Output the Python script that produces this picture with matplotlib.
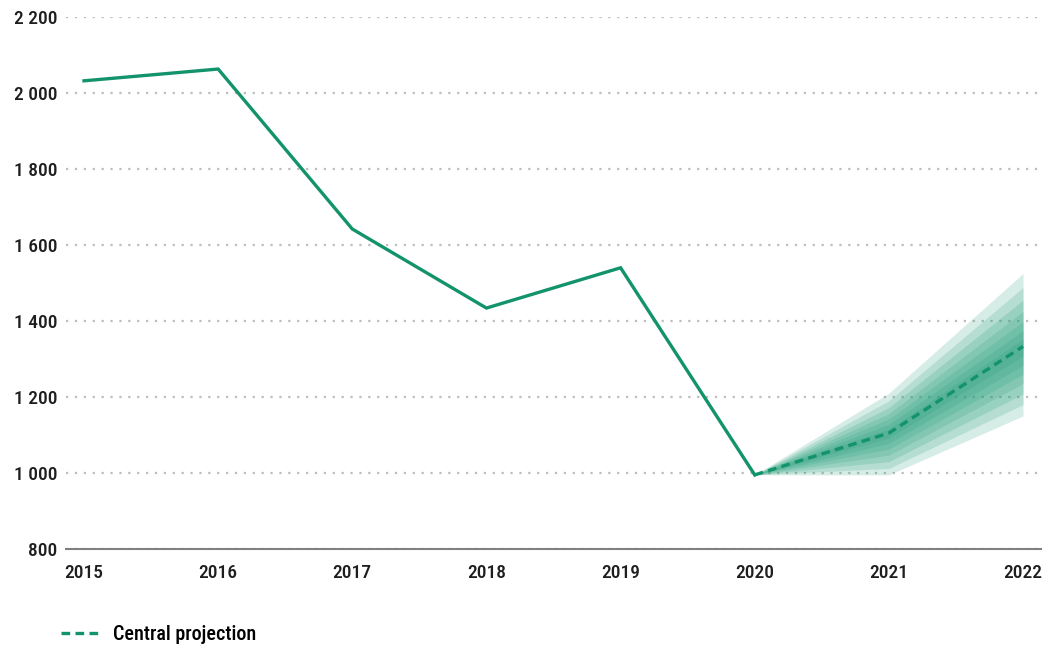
import numpy as np
import matplotlib
matplotlib.use("Agg")
import matplotlib.pyplot as plt
from matplotlib.ticker import FuncFormatter

plt.rcParams['font.family'] = ['Roboto Condensed', 'Archivo Narrow', 'PT Sans Narrow',
                               'Liberation Sans', 'DejaVu Sans']

# data
years = [2015, 2016, 2017, 2018, 2019, 2020]
values = [2032, 2063, 1642, 1434, 1540, 995]

proj_years = [2020, 2021, 2022]
central = [995, 1105, 1333]

# fan bands, outer to inner (lower, upper)
bands = [
    ([995, 995, 1150], [995, 1210, 1525]),
    ([995, 1012, 1180], [995, 1190, 1488]),
    ([995, 1030, 1208], [995, 1172, 1455]),
    ([995, 1047, 1235], [995, 1156, 1425]),
    ([995, 1063, 1260], [995, 1142, 1398]),
    ([995, 1078, 1283], [995, 1128, 1374]),
    ([995, 1092, 1308], [995, 1116, 1352]),
]

green = '#13936b'

fig = plt.figure(figsize=(10.53, 6.53), dpi=100)
ax = fig.add_axes([0.0627, 0.1593, 0.9259, 0.8147])

for lo, hi in bands:
    ax.fill_between(proj_years, lo, hi, color='#1f9b76', alpha=0.18, lw=0)

ax.plot(years, values, color=green, lw=2.4, solid_joinstyle='miter')
ax.plot(proj_years, central, color=green, lw=2.4, ls=(0, (2.6, 1.6)),
        label='Central projection')

ax.set_xlim(2014.866, 2022.134)
ax.set_ylim(800, 2200)
ax.set_xticks(range(2015, 2023))
ax.set_yticks(range(800, 2201, 200))
ax.yaxis.set_major_formatter(FuncFormatter(lambda v, p: f'{int(v):,}'.replace(',', ' ')))

ax.grid(axis='y', color='#bdbdbd', ls=(0, (1, 3)), lw=1.6)
ax.set_axisbelow(True)
for s in ['top', 'right', 'left']:
    ax.spines[s].set_visible(False)
ax.spines['bottom'].set_color('#808080')
ax.spines['bottom'].set_linewidth(1.5)
ax.tick_params(axis='both', length=0, labelsize=14, colors='#1e1e1e')
ax.tick_params(axis='x', pad=11)
ax.tick_params(axis='y', pad=6)
for lab in ax.get_xticklabels() + ax.get_yticklabels():
    lab.set_fontweight('medium')

leg = ax.legend(loc='upper left', bbox_to_anchor=(-0.024, -0.108), frameon=False,
                fontsize=14.5, handlelength=2.0, handletextpad=0.6)
for t in leg.get_texts():
    t.set_fontweight('medium')

fig.savefig('out.png', dpi=100)
